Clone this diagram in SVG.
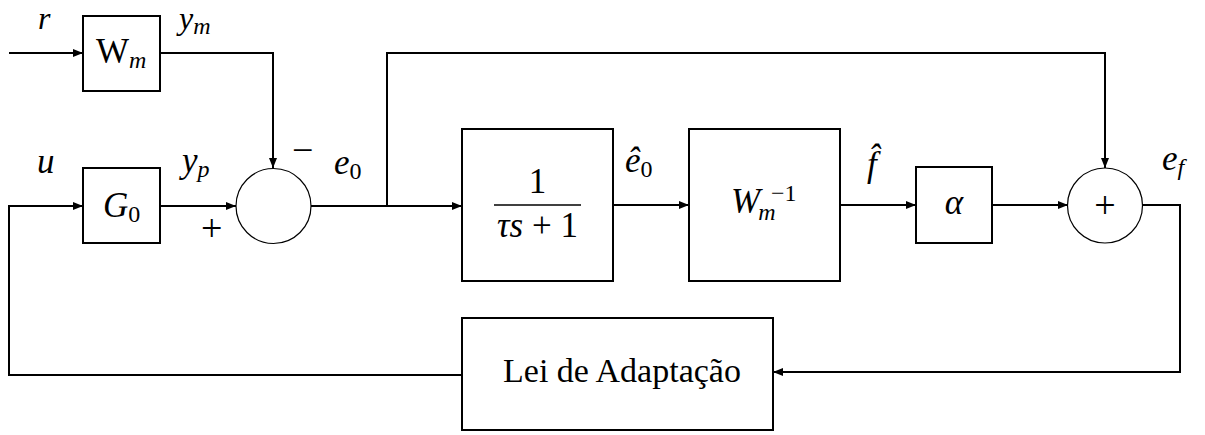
<svg xmlns="http://www.w3.org/2000/svg" width="1205" height="435" viewBox="0 0 1205 435">
<style>
.w{fill:none;stroke:#000;stroke-width:2;stroke-linejoin:miter}
.b{fill:#fff;stroke:#000;stroke-width:2}
.c{fill:#fff;stroke:#000;stroke-width:1.2}
.t{font-family:"Liberation Serif","Times New Roman",serif;font-size:35px;fill:#000}
.i{font-style:italic}
.s{font-size:24px}
.n{font-style:normal}
.p{font-size:38px}
.l{font-family:"Liberation Serif",serif;font-size:34px;fill:#000}
</style>
<defs>
<marker id="a" viewBox="0 0 10 8" refX="10" refY="4" markerWidth="10" markerHeight="8" markerUnits="userSpaceOnUse" orient="auto">
<path d="M0,0 L10,4 L0,8 Z" fill="#000"/>
</marker>
</defs>
<g id="connectors">
<path class="w" d="M9,53 H83" marker-end="url(#a)"/>
<path class="w" d="M160,53 H273 V168" marker-end="url(#a)"/>
<path class="w" d="M160,206 H236" marker-end="url(#a)"/>
<path class="w" d="M311,206 H462" marker-end="url(#a)"/>
<path class="w" d="M387,206 V53 H1105 V168" marker-end="url(#a)"/>
<path class="w" d="M613,205 H689" marker-end="url(#a)"/>
<path class="w" d="M840,205 H916" marker-end="url(#a)"/>
<path class="w" d="M992,205 H1068" marker-end="url(#a)"/>
<path class="w" d="M1142,205 H1180 V372 H773" marker-end="url(#a)"/>
<path class="w" d="M462,375 H9 V206 H83" marker-end="url(#a)"/>
</g>
<g id="Wm">
<rect class="b" x="83" y="16" width="77" height="75"/>
<text class="t" x="96" y="63">W<tspan class="i s" dy="5">m</tspan></text>
</g>
<g id="G0">
<rect class="b" x="83" y="168" width="77" height="75"/>
<text class="t" x="103" y="217"><tspan class="i">G</tspan><tspan class="s" dy="5">0</tspan></text>
</g>
<g id="sum1">
<circle class="c" cx="273.5" cy="206" r="37.5"/>
</g>
<g id="filter">
<rect class="b" x="462" y="129" width="151" height="152"/>
<text class="t" x="537.5" y="193" text-anchor="middle">1</text>
<line x1="494" y1="205" x2="581" y2="205" stroke="#000" stroke-width="1.5"/>
<text class="t" x="537.5" y="237" text-anchor="middle"><tspan class="i">τs</tspan> + 1</text>
</g>
<g id="Wminv">
<rect class="b" x="689" y="129" width="151" height="152"/>
<text class="t i" x="731" y="213">W<tspan class="s" dy="7" dx="-2">m</tspan><tspan class="s n" x="771" y="201">−1</tspan></text>
</g>
<g id="alpha">
<rect class="b" x="916" y="167" width="76" height="76"/>
<text class="t i" x="954" y="214" text-anchor="middle">α</text>
</g>
<g id="sum2">
<circle class="c" cx="1105" cy="205.5" r="37.5"/>
<text class="t p" x="1105" y="218" text-anchor="middle">+</text>
</g>
<g id="adapt">
<rect class="b" x="462" y="318" width="311" height="112"/>
<text class="l" x="622" y="382" text-anchor="middle">Lei de Adaptação</text>
</g>
<g id="labels">
<text class="t i" x="38" y="29" style="font-size:32px">r</text>
<text class="t i" x="179" y="29" style="font-size:32px">y<tspan class="s" dy="5">m</tspan></text>
<text class="t i" x="37" y="173">u</text>
<text class="t i" x="182" y="172">y<tspan class="s" dy="5">p</tspan></text>
<text class="t p" x="292" y="163">−</text>
<text class="t p" x="201" y="241">+</text>
<text class="t i" x="334" y="174">e<tspan class="s n" dy="5">0</tspan></text>
<text class="t i" x="625" y="172">ê<tspan class="s n" dy="5">0</tspan></text>
<text class="t i" x="867" y="176">f̂</text>
<text class="t i" x="1162" y="170">e<tspan class="s" dy="5">f</tspan></text>
</g>
</svg>
